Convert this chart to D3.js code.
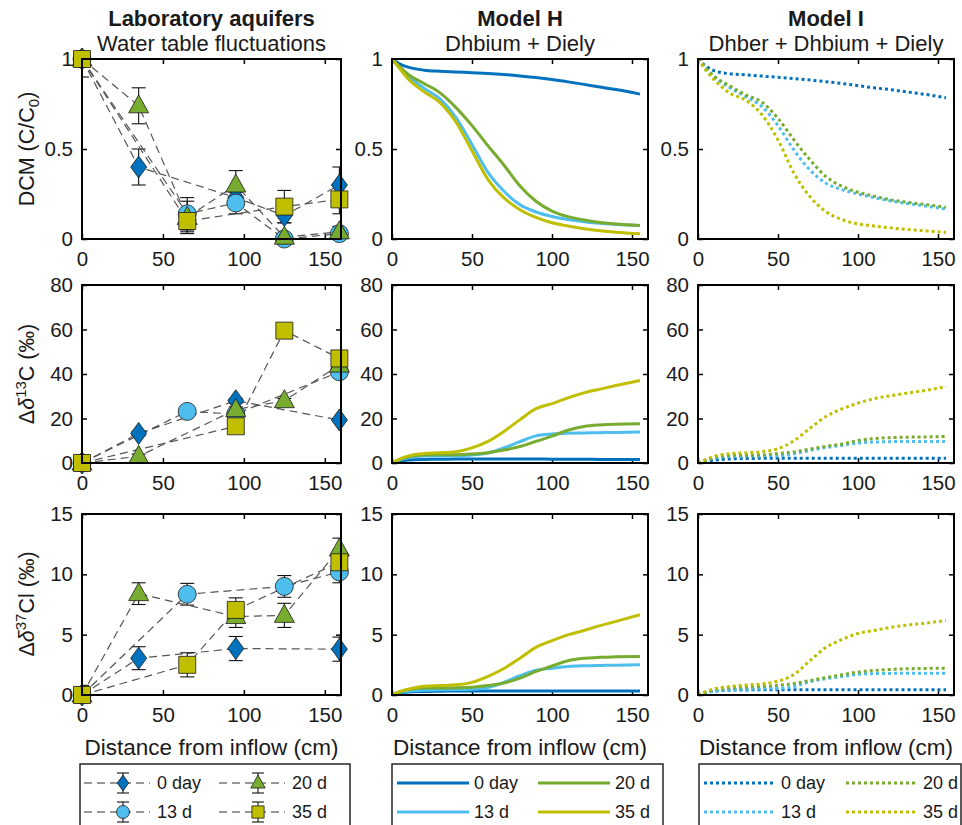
<!DOCTYPE html>
<html>
<head>
<title>DCM and isotope shifts along the flow path</title>
<style>
body { margin: 0; background: #fff; }
text { font-family: "Liberation Sans", Arial, sans-serif; fill: #1a1a1a; }
</style>
</head>
<body>

<div id="svg-container"></div>

<script src="https://d3js.org/d3.v7.min.js"></script>
<script>
const width = 962;
const height = 825;

const seriesNames = ["0 day", "13 d", "20 d", "35 d"];
const seriesColors = ["#0072BD", "#4DBEEE", "#77AC30", "#BFBF00"];
const markerShapes = ["diamond", "circle", "triangle", "square"];

const xTicks = [0, 50, 100, 150];
const dcmTicks = [0, 0.5, 1];
const c13Ticks = [0, 20, 40, 60, 80];
const cl37Ticks = [0, 5, 10, 15];

// Laboratory aquifers: [distance cm, value, error] per series
const labDcm = [
  [[0, 1, 0.1], [35, 0.40, 0.10], [95, 0.23, 0.05], [125, 0.13, 0.04], [159, 0.30, 0.10]],
  [[0, 1, 0.03], [65, 0.14, 0.09], [95, 0.20, 0.06], [125, 0.0, 0.02], [159, 0.03, 0.02]],
  [[0, 1, 0.03], [35, 0.74, 0.10], [65, 0.12, 0.09], [95, 0.30, 0.08], [125, 0.01, 0.02], [159, 0.04, 0.03]],
  [[0, 1, 0.03], [65, 0.10, 0.06], [125, 0.18, 0.09], [159, 0.22, 0.08]]
];
const labC13 = [
  [[0, 0, 1], [35, 13.3, 1], [95, 28, 1], [159, 19.3, 0.5]],
  [[0, 0, 0.5], [65, 23.2, 0.8], [95, 22, 0.8], [159, 41, 1]],
  [[0, 0, 0.5], [35, 3, 1], [95, 24, 1.2], [125, 28, 1], [159, 44, 1]],
  [[0, 0, 0.5], [95, 16.5, 2], [125, 59.5, 1], [159, 47, 1.5]]
];
const labCl37 = [
  [[0, 0, 0.2], [35, 3.05, 0.95], [95, 3.85, 1], [159, 3.8, 1]],
  [[0, 0, 0.3], [65, 8.35, 0.9], [125, 9.0, 0.9], [159, 10.2, 0.9]],
  [[0, 0, 0.8], [35, 8.4, 0.9], [95, 6.5, 0.9], [125, 6.6, 1], [159, 12.1, 0.9]],
  [[0, 0, 0.3], [65, 2.5, 1], [95, 7.05, 1], [159, 11.0, 1]]
];

// Model curves, sampled at modelX
const modelX = [0, 5, 10, 20, 30, 40, 50, 60, 70, 80, 90, 100, 110, 120, 130, 140, 155];

const hDcm = [
  [1.0, 0.972, 0.955, 0.938, 0.932, 0.928, 0.924, 0.920, 0.914, 0.906, 0.897, 0.886, 0.873, 0.859, 0.844, 0.830, 0.805],
  [1.0, 0.95, 0.905, 0.838, 0.778, 0.675, 0.525, 0.37, 0.265, 0.19, 0.15, 0.125, 0.108, 0.096, 0.087, 0.081, 0.075],
  [1.0, 0.955, 0.915, 0.864, 0.812, 0.73, 0.63, 0.518, 0.41, 0.295, 0.21, 0.155, 0.124, 0.105, 0.092, 0.083, 0.075],
  [1.0, 0.945, 0.89, 0.818, 0.758, 0.65, 0.49, 0.33, 0.228, 0.163, 0.12, 0.09, 0.072, 0.057, 0.046, 0.038, 0.029]
];
const iDcm = [
  [1.0, 0.96, 0.935, 0.918, 0.912, 0.905, 0.898, 0.891, 0.883, 0.874, 0.864, 0.852, 0.840, 0.830, 0.818, 0.806, 0.785],
  [1.0, 0.945, 0.9, 0.84, 0.79, 0.735, 0.63, 0.494, 0.383, 0.31, 0.274, 0.25, 0.23, 0.212, 0.198, 0.186, 0.166],
  [1.0, 0.95, 0.905, 0.85, 0.80, 0.76, 0.67, 0.55, 0.44, 0.346, 0.293, 0.26, 0.238, 0.218, 0.205, 0.194, 0.177],
  [1.0, 0.935, 0.885, 0.81, 0.77, 0.69, 0.55, 0.365, 0.235, 0.152, 0.108, 0.084, 0.072, 0.062, 0.054, 0.047, 0.037]
];
const hC13 = [
  [0, 0.8, 1.3, 1.6, 1.7, 1.8, 1.8, 1.8, 1.8, 1.8, 1.8, 1.7, 1.7, 1.7, 1.6, 1.6, 1.6],
  [0, 1.4, 2.4, 3.1, 3.2, 3.3, 3.6, 4.5, 6.8, 9.6, 12.2, 13.0, 13.35, 13.5, 13.65, 13.75, 13.9],
  [0, 1.6, 2.8, 3.6, 3.7, 3.7, 4.0, 4.6, 5.8, 7.4, 9.7, 12.1, 14.7, 16.4, 17.1, 17.4, 17.6],
  [0, 1.8, 3.1, 4.3, 4.6, 5.1, 6.8, 9.7, 14.2, 19.5, 24.4, 26.7, 29.3, 31.5, 33.2, 34.8, 37.1]
];
const iC13 = [
  [0, 0.6, 1.2, 1.8, 2.0, 2.1, 2.1, 2.1, 2.1, 2.1, 2.1, 2.1, 2.1, 2.1, 2.1, 2.1, 2.1],
  [0, 1.2, 2.2, 3.0, 3.1, 3.2, 3.3, 4.2, 5.6, 7.0, 7.9, 9.0, 9.4, 9.6, 9.7, 9.7, 9.7],
  [0, 1.3, 2.4, 3.4, 3.5, 3.6, 4.3, 5.0, 6.3, 7.5, 8.5, 10.1, 11.0, 11.4, 11.6, 11.7, 11.9],
  [0, 1.6, 3.0, 4.2, 4.6, 5.1, 6.4, 10.0, 15.6, 20.9, 24.3, 26.9, 28.9, 30.2, 31.3, 32.4, 34.3]
];
const hCl37 = [
  [0, 0.15, 0.25, 0.3, 0.32, 0.33, 0.33, 0.33, 0.33, 0.33, 0.33, 0.33, 0.33, 0.33, 0.33, 0.33, 0.33],
  [0, 0.2, 0.3, 0.4, 0.43, 0.45, 0.47, 0.62, 1.05, 1.6, 2.05, 2.22, 2.36, 2.42, 2.45, 2.47, 2.5],
  [0, 0.25, 0.45, 0.58, 0.58, 0.6, 0.64, 0.78, 1.0, 1.4, 1.95, 2.4, 2.84, 3.04, 3.12, 3.16, 3.2],
  [0, 0.3, 0.47, 0.72, 0.78, 0.84, 1.05, 1.55, 2.2, 3.05, 3.95, 4.5, 4.98, 5.35, 5.75, 6.1, 6.65]
];
const iCl37 = [
  [0, 0.2, 0.32, 0.4, 0.42, 0.43, 0.43, 0.43, 0.43, 0.43, 0.43, 0.43, 0.43, 0.43, 0.43, 0.43, 0.43],
  [0, 0.2, 0.32, 0.44, 0.48, 0.52, 0.55, 0.7, 1.1, 1.35, 1.53, 1.72, 1.77, 1.79, 1.8, 1.8, 1.8],
  [0, 0.25, 0.45, 0.6, 0.65, 0.7, 0.8, 0.95, 1.2, 1.45, 1.67, 1.9, 2.03, 2.12, 2.17, 2.2, 2.22],
  [0, 0.3, 0.5, 0.7, 0.82, 0.92, 1.15, 1.7, 2.85, 3.95, 4.6, 5.1, 5.35, 5.6, 5.78, 5.92, 6.17]
];

const svg = d3.select("#svg-container")
  .append("svg")
  .attr("width", width)
  .attr("height", height);

svg.append("rect").attr("width", width).attr("height", height).attr("fill", "#fff");

const cols = [{ x0: 82, x1: 341 }, { x0: 392, x1: 648 }, { x0: 698, x1: 954 }];
const rows = [{ y0: 59, y1: 239 }, { y0: 285, y1: 463 }, { y0: 514, y1: 695 }];
const yDomains = [[0, 1], [0, 80], [0, 15]];
const yTickSets = [dcmTicks, c13Ticks, cl37Ticks];

function markerPath(shape, s) {
  if (shape === "diamond") return `M0,${-11 * s}L${8 * s},0L0,${11 * s}L${-8 * s},0Z`;
  if (shape === "triangle") return `M0,${-11 * s}L${10 * s},${7 * s}L${-10 * s},${7 * s}Z`;
  if (shape === "square") return `M${-8.5 * s},${-8.5 * s}h${17 * s}v${17 * s}h${-17 * s}Z`;
  const r = 9 * s;
  return `M${r},0A${r},${r} 0 1,1 ${-r},0A${r},${r} 0 1,1 ${r},0Z`;
}

let clipId = 0;
function makePanel(ci, ri) {
  const c = cols[ci], r = rows[ri];
  const x = d3.scaleLinear().domain([0, 160]).range([c.x0, c.x1]);
  const y = d3.scaleLinear().domain(yDomains[ri]).range([r.y1, r.y0]);
  const g = svg.append("g");
  const id = "clip" + (clipId++);
  svg.append("clipPath").attr("id", id).append("rect")
    .attr("x", c.x0).attr("y", r.y0).attr("width", c.x1 - c.x0).attr("height", r.y1 - r.y0);

  const fmt = d3.format("~g");
  const ax = [
    g.append("g").attr("transform", `translate(0,${r.y1})`)
      .call(d3.axisBottom(x).tickValues(xTicks).tickSize(-5).tickPadding(12).tickFormat(fmt)),
    g.append("g").attr("transform", `translate(0,${r.y0})`)
      .call(d3.axisTop(x).tickValues(xTicks).tickSize(-5).tickFormat("")),
    g.append("g").attr("transform", `translate(${c.x0},0)`)
      .call(d3.axisLeft(y).tickValues(yTickSets[ri]).tickSize(-5).tickPadding(9).tickFormat(fmt)),
    g.append("g").attr("transform", `translate(${c.x1},0)`)
      .call(d3.axisRight(y).tickValues(yTickSets[ri]).tickSize(-5).tickFormat(""))
  ];
  ax.forEach(a => {
    a.select(".domain").remove();
    a.selectAll(".tick line").attr("stroke", "#000").attr("stroke-width", 1.5);
    a.selectAll(".tick text").attr("font-size", 20.5).attr("fill", "#1a1a1a")
      .attr("font-family", "'Liberation Sans', Arial, sans-serif");
  });

  const plot = g.append("g");
  const clipped = plot.append("g").attr("clip-path", `url(#${id})`);
  return { g, plot, clipped, x, y, c, r };
}

function drawFrame(p) {
  p.g.append("rect")
    .attr("x", p.c.x0).attr("y", p.r.y0)
    .attr("width", p.c.x1 - p.c.x0).attr("height", p.r.y1 - p.r.y0)
    .attr("fill", "none").attr("stroke", "#000").attr("stroke-width", 2);
}

// Laboratory panels
[labDcm, labC13, labCl37].forEach((panelData, ri) => {
  const p = makePanel(0, ri);
  drawFrame(p);
  panelData.forEach((pts, si) => {
    const line = d3.line().x(d => p.x(d[0])).y(d => p.y(d[1]));
    p.clipped.append("path")
      .attr("d", line(pts))
      .attr("fill", "none")
      .attr("stroke", "#555")
      .attr("stroke-width", 1.2)
      .attr("stroke-dasharray", "8,5");
    p.plot.selectAll(null).data(pts).enter().append("path")
      .attr("transform", d => `translate(${p.x(d[0])},${p.y(d[1])})`)
      .attr("d", markerPath(markerShapes[si], 1))
      .attr("fill", seriesColors[si])
      .attr("stroke", "#1a1a1a")
      .attr("stroke-width", 0.8);
    const eb = p.clipped.append("g").attr("stroke", "#111").attr("stroke-width", 1.1);
    pts.forEach(d => {
      const cx = p.x(d[0]), lo = p.y(d[1] - d[2]), hi = p.y(d[1] + d[2]);
      eb.append("line").attr("x1", cx).attr("x2", cx).attr("y1", lo).attr("y2", hi);
      eb.append("line").attr("x1", cx - 7).attr("x2", cx + 7).attr("y1", lo).attr("y2", lo);
      eb.append("line").attr("x1", cx - 7).attr("x2", cx + 7).attr("y1", hi).attr("y2", hi);
    });
  });
});

// Model panels
const modelSets = [[hDcm, hC13, hCl37], [iDcm, iC13, iCl37]];
modelSets.forEach((sets, mi) => {
  sets.forEach((panelData, ri) => {
    const p = makePanel(mi + 1, ri);
    panelData.forEach((vals, si) => {
      const line = d3.line()
        .x((d, i) => p.x(modelX[i]))
        .y(d => p.y(d))
        .curve(d3.curveMonotoneX);
      p.clipped.append("path")
        .attr("d", line(vals))
        .attr("fill", "none")
        .attr("stroke", seriesColors[si])
        .attr("stroke-width", 3)
        .attr("stroke-dasharray", mi === 1 ? "3,3" : null);
    });
    drawFrame(p);
  });
});

// Titles
const titles = [
  { t: "Laboratory aquifers", s: "Water table fluctuations" },
  { t: "Model H", s: "Dhbium + Diely" },
  { t: "Model I", s: "Dhber + Dhbium + Diely" }
];
titles.forEach((d, i) => {
  const cx = (cols[i].x0 + cols[i].x1) / 2;
  svg.append("text").attr("x", cx).attr("y", 26).attr("text-anchor", "middle")
    .attr("font-size", 22).attr("font-weight", "bold").text(d.t);
  svg.append("text").attr("x", cx).attr("y", 51).attr("text-anchor", "middle")
    .attr("font-size", 22).text(d.s);
  svg.append("text").attr("x", cx).attr("y", 755).attr("text-anchor", "middle")
    .attr("font-size", 22.5).text("Distance from inflow (cm)");
});

// Y axis labels
function yLabel(cy, build) {
  const t = svg.append("text")
    .attr("transform", `translate(34,${cy}) rotate(-90)`)
    .attr("text-anchor", "middle")
    .attr("font-size", 21.5);
  build(t);
}
yLabel(149, t => {
  t.append("tspan").text("DCM (C/C");
  t.append("tspan").attr("font-size", 15).attr("dy", 5).text("0");
  t.append("tspan").attr("dy", -5).text(")");
});
yLabel(374, t => {
  t.append("tspan").text("Δ");
  t.append("tspan").attr("font-style", "italic").text("δ");
  t.append("tspan").attr("font-size", 15).attr("dy", -8).text("13");
  t.append("tspan").attr("dy", 8).text("C (‰)");
});
yLabel(604, t => {
  t.append("tspan").text("Δ");
  t.append("tspan").attr("font-style", "italic").text("δ");
  t.append("tspan").attr("font-size", 15).attr("dy", -8).text("37");
  t.append("tspan").attr("dy", 8).text("Cl (‰)");
});

// Legends
const legendRowY = [783, 812];
const legends = [
  { x0: 80, x1: 350, starts: [84, 219], len: 66, text: 73, kind: "lab" },
  { x0: 392, x1: 663, starts: [397, 538], len: 72, text: 77, kind: "solid" },
  { x0: 699, x1: 961, starts: [704, 846], len: 70, text: 77, kind: "dot" }
];
legends.forEach(L => {
  svg.append("rect")
    .attr("x", L.x0).attr("y", 764)
    .attr("width", L.x1 - L.x0).attr("height", 80)
    .attr("fill", "#fff").attr("stroke", "#262626").attr("stroke-width", 1.5);
  seriesNames.forEach((name, si) => {
    const col = si < 2 ? 0 : 1;
    const ry = legendRowY[si % 2];
    const sx = L.starts[col];
    const lg = svg.append("g");
    if (L.kind === "lab") {
      lg.append("line").attr("x1", sx).attr("x2", sx + L.len).attr("y1", ry).attr("y2", ry)
        .attr("stroke", "#333").attr("stroke-width", 1.2).attr("stroke-dasharray", "8,5");
      const mx = sx + 39;
      lg.append("line").attr("x1", mx).attr("x2", mx).attr("y1", ry - 10).attr("y2", ry + 10)
        .attr("stroke", "#111").attr("stroke-width", 1.1);
      [ry - 10, ry + 10].forEach(yy => {
        lg.append("line").attr("x1", mx - 6).attr("x2", mx + 6).attr("y1", yy).attr("y2", yy)
          .attr("stroke", "#111").attr("stroke-width", 1.1);
      });
      lg.append("path").attr("transform", `translate(${mx},${ry})`)
        .attr("d", markerPath(markerShapes[si], 0.72))
        .attr("fill", seriesColors[si]).attr("stroke", "#1a1a1a").attr("stroke-width", 0.8);
    } else {
      lg.append("line").attr("x1", sx).attr("x2", sx + L.len).attr("y1", ry).attr("y2", ry)
        .attr("stroke", seriesColors[si]).attr("stroke-width", 3)
        .attr("stroke-dasharray", L.kind === "dot" ? "3,3" : null);
    }
    lg.append("text").attr("x", sx + L.text).attr("y", ry + 6)
      .attr("font-size", 18).text(name);
  });
});
</script>

</body>
</html>
